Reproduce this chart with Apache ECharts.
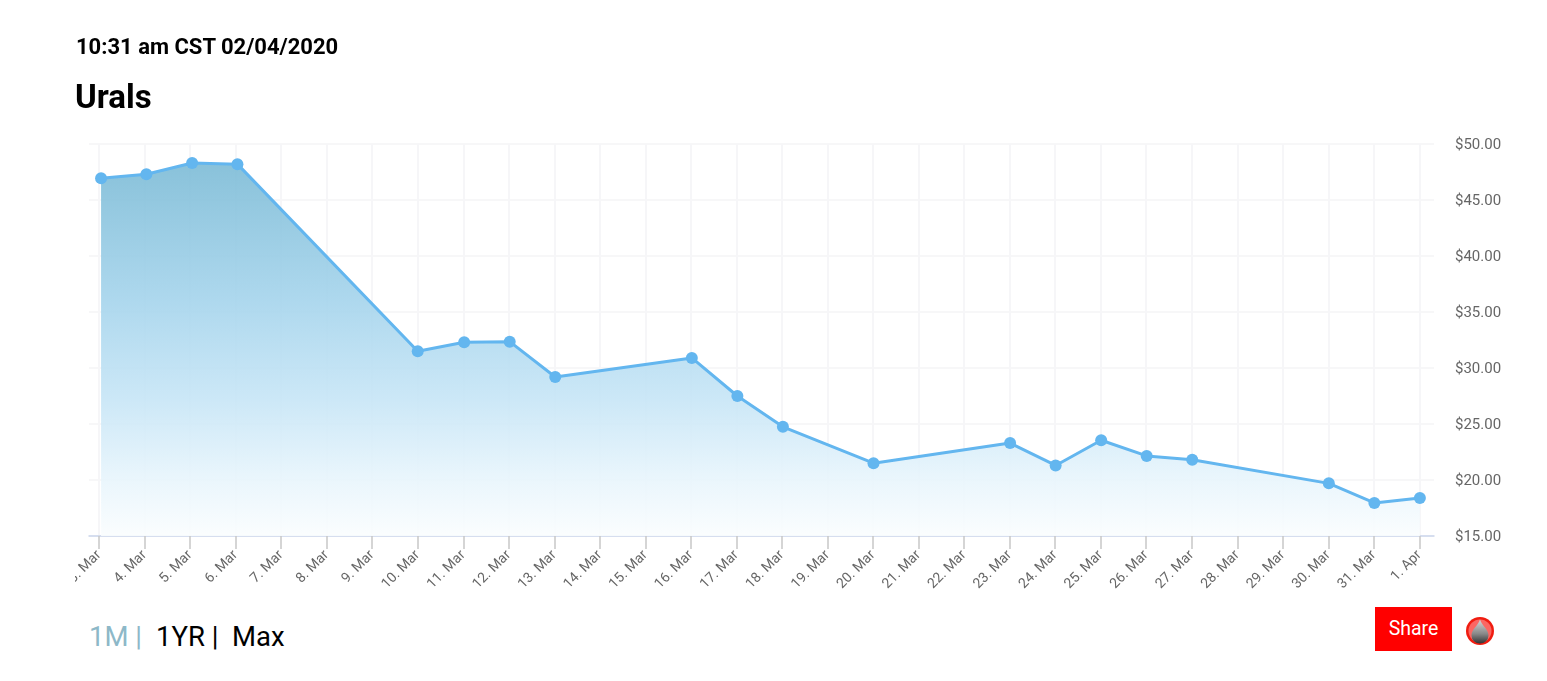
<!DOCTYPE html>
<html><head><meta charset="utf-8">
<script src="https://cdn.jsdelivr.net/npm/echarts@6/dist/echarts.min.js"></script>
<style>
html,body{margin:0;padding:0;background:#fff;width:1547px;height:681px;overflow:hidden;font-family:Roboto,sans-serif}
#chart{position:absolute;left:75px;top:0;width:1472px;height:600px}
.t{position:absolute;white-space:nowrap;line-height:1}
#share{position:absolute;left:1375px;top:607px;width:77px;height:44px;background:#f00;color:#fff;font-size:19.5px;line-height:44px;text-align:center}
</style></head><body>
<div id="chart"></div>
<div class="t" style="left:76px;top:36px;font-size:22px;font-weight:700;color:#000">10:31 am CST 02/04/2020</div>
<div class="t" style="left:75px;top:80px;font-size:33px;font-weight:700;color:#000">Urals</div>
<div class="t" style="left:89px;top:623px;font-size:27.5px;color:#8db8c8">1M |</div>
<div class="t" style="left:156px;top:623px;font-size:27.5px;color:#000">1YR |</div>
<div class="t" style="left:232px;top:623px;font-size:27.5px;color:#000">Max</div>
<div id="share">Share</div>
<svg style="position:absolute;left:1465px;top:616px" width="30" height="30" viewBox="0 0 30 30">
<defs><linearGradient id="g" x1="0" y1="0" x2="0" y2="1"><stop offset="0" stop-color="#d8d8d8"/><stop offset="0.6" stop-color="#888"/><stop offset="1" stop-color="#333"/></linearGradient></defs>
<circle cx="15" cy="15" r="14" fill="#f01c10"/><circle cx="15" cy="15" r="11.5" fill="#f88" opacity=".7"/>
<path d="M15 3.5 C17 10 23.5 13 23.5 19.5 A8.5 8 0 0 1 6.5 19.5 C6.5 13 13 10 15 3.5Z" fill="url(#g)"/>
</svg>
<script>
const tickDays = [0,1,2,3,4,5,6,7,8,9,10,11,12,13,14,15,16,17,18,19,20,21,22,23,24,25,26,27,28,29];
const tickLabels = ['3. Mar','4. Mar','5. Mar','6. Mar','7. Mar','8. Mar','9. Mar','10. Mar','11. Mar','12. Mar','13. Mar','14. Mar','15. Mar','16. Mar','17. Mar','18. Mar','19. Mar','20. Mar','21. Mar','22. Mar','23. Mar','24. Mar','25. Mar','26. Mar','27. Mar','28. Mar','29. Mar','30. Mar','31. Mar','1. Apr'];
const priceDays = [0.045,1.04,2.045,3.04,7.0,8.02,9.02,10.02,13.02,14.02,15.02,17.01,20.01,21.01,22.01,23.01,24.01,27.01,28.01,29.01];
const prices = [46.95,47.3,48.3,48.2,31.5,32.3,32.35,29.2,30.9,27.5,24.75,21.5,23.3,21.3,23.55,22.15,21.8,19.7,17.95,18.4];
const yTicks = {min:15,max:50,step:5};
const chart = echarts.init(document.getElementById('chart'),null,{renderer:'canvas'});
chart.setOption({
  animation:false,
  textStyle:{fontFamily:'Roboto'},
  grid:{left:14,top:144,width:1345,height:392,containLabel:false,outerBoundsMode:'none'},
  xAxis:{type:'value',min:-0.22,max:29.32,
    axisLine:{show:true,onZero:false,lineStyle:{color:'#ccd6eb',width:1.5}},
    axisTick:{show:true,length:13,customValues:tickDays,lineStyle:{color:'#c8c8c8',width:1.5}},
    splitLine:{show:true,lineStyle:{color:'#f6f6f8',width:2}},
    axisLabel:{show:true,customValues:tickDays,rotate:45,fontSize:14,color:'#666',margin:17,hideOverlap:false,
      formatter:v=>tickLabels[tickDays.indexOf(Math.round(v))]}
  },
  yAxis:{type:'value',position:'right',min:yTicks.min,max:yTicks.max,interval:yTicks.step,
    axisLine:{show:false},axisTick:{show:false},
    splitLine:{show:true,lineStyle:{color:'#f7f7f8',width:2}},
    axisLabel:{margin:21,fontSize:15,color:'#666',formatter:v=>'{p|$'+v.toFixed(2)+'}',
      rich:{p:{fontSize:15,fontFamily:'Roboto',color:'#666',padding:[2,0,0,0]}}}
  },
  series:[{type:'line',data:priceDays.map((d,i)=>[d,prices[i]]),
    symbol:'circle',symbolSize:12,showSymbol:true,clip:false,
    lineStyle:{color:'#63b6ef',width:3},itemStyle:{color:'#63b6ef'},
    areaStyle:{opacity:1,origin:'start',color:{type:'linear',x:0,y:0,x2:0,y2:1,colorStops:[
      {offset:0,color:'rgba(124,187,214,0.9)'},
      {offset:0.37,color:'rgba(165,212,236,0.9)'},
      {offset:0.63,color:'rgba(198,229,246,0.9)'},
      {offset:0.85,color:'rgba(232,245,252,0.9)'},
      {offset:1,color:'rgba(250,253,254,0.9)'}]}}
  }]
});
</script></body></html>
